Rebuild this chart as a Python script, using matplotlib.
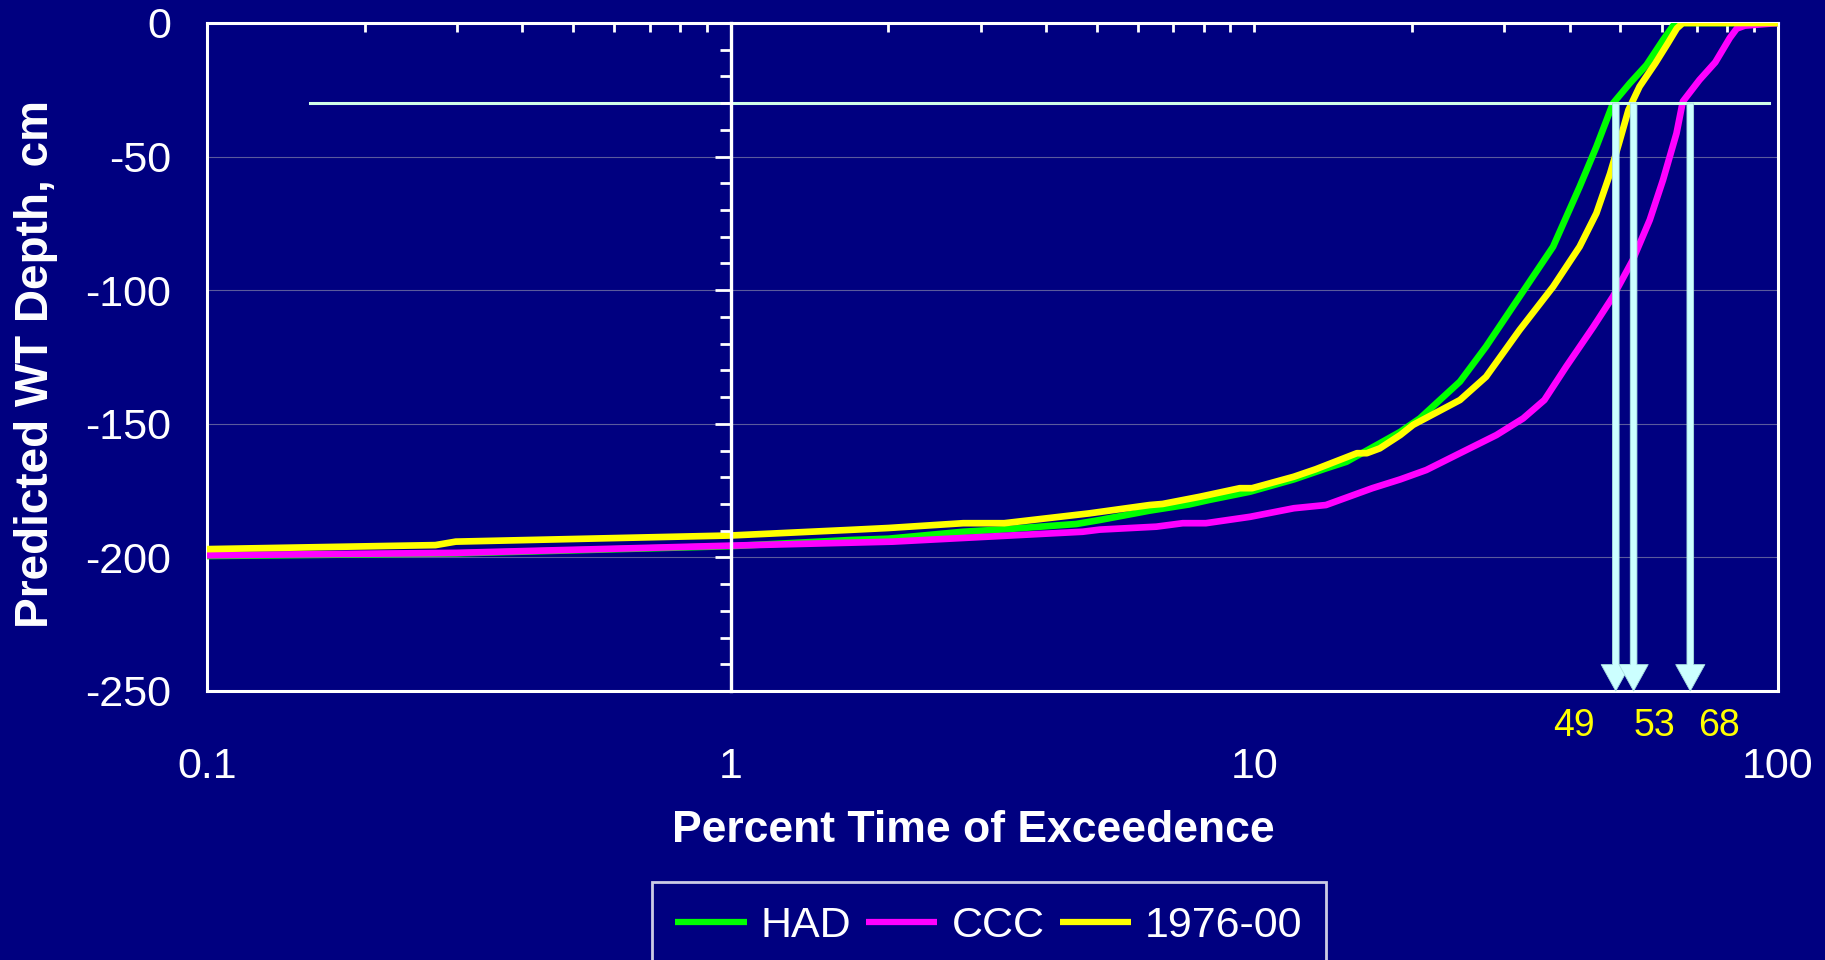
"""
Water table exceedance curves (HAD / CCC / 1976-00) on a log time axis.
Writes out.png.
"""

import matplotlib
matplotlib.use("Agg")
import matplotlib.pyplot as plt
import matplotlib.ticker as ticker

plt.rcParams["font.family"] = ["Liberation Sans", "DejaVu Sans"]
plt.rcParams["axes.unicode_minus"] = False

NAVY = "#000080"

# ── Data ──
had_x = [0.1, 0.3, 1.0, 1.69, 2.0, 2.78, 3.33, 4.57, 5.07, 6.31, 7.5, 8.2,
         9.82, 11.9, 13.7, 15.0, 17.36, 19.0, 20.7, 24.7, 27.7, 32.1, 37.2,
         41.8, 45.0, 48.4, 52.1, 56.1, 60.3, 63.0, 64.4, 100]
had_y = [-199.5, -198.5, -195.8, -193.5, -193.0, -190.4, -189.5, -187.5,
         -186.0, -182.5, -180.2, -178.5, -175.4, -170.8, -166.7, -164.2,
         -157.3, -153.0, -148.0, -134.2, -121.1, -102.4, -83.7, -61.3, -46.3,
         -30.1, -22.6, -15.7, -6.4, -1.1, 0, 0]

ccc_x = [0.1, 0.3, 1.0, 1.69, 2.04, 4.70, 5.07, 6.50, 7.30, 8.08, 9.82, 11.9,
         13.7, 16.8, 19.0, 21.3, 24.7, 29.0, 32.6, 35.8, 39.4, 44.4, 48.4,
         52.8, 56.9, 60.3, 64.0, 65.8, 70.8, 75.9, 80.9, 83.4, 86.4, 100]
ccc_y = [-199.2, -198.3, -195.6, -194.5, -194.1, -190.4, -189.6, -188.5,
         -187.2, -187.2, -184.8, -181.6, -180.4, -174.1, -170.8, -167.3,
         -161.0, -154.2, -148.0, -141.1, -128.6, -113.7, -102.4, -88.7, -73.7,
         -58.8, -41.3, -29.4, -21.3, -14.7, -5.6, -2.1, -1.0, 0]

base_x = [0.1, 0.273, 0.2985, 1.0, 1.69, 2.0, 2.78, 3.33, 4.85, 6.31, 6.68,
          7.87, 9.38, 9.9, 11.9, 13.1, 15.7, 16.4, 17.36, 19.0, 20.1, 24.7,
          27.7, 32.1, 37.2, 41.8, 45.0, 47.8, 49.7, 51.8, 54.4, 58.3, 61.6,
          64.1, 65.8, 100]
base_y = [-196.9, -195.4, -194.1, -191.8, -189.7, -189.0, -187.2, -187.2,
          -183.5, -180.4, -180.0, -177.3, -174.1, -174.1, -169.8, -167.0,
          -161.0, -161.0, -159.2, -154.2, -150.4, -141.1, -132.4, -114.9,
          -98.7, -83.7, -71.2, -56.3, -45.0, -32.6, -23.8, -15.1, -7.6, -2.0,
          0, 0]

series = [("HAD", had_x, had_y, "#00ff00"),
          ("CCC", ccc_x, ccc_y, "#ff00ff"),
          ("1976-00", base_x, base_y, "#ffff00")]

threshold = -30                 # cm, reference depth
threshold_span = [0.157, 96]    # % time, extent of the reference line
crossings = [49, 53, 68]        # % time where each curve hits the threshold
crossing_dx = [-42, 21, 29]     # label offsets (pixels)

x_ticks = [0.1, 1, 10, 100]
y_ticks = [0, -50, -100, -150, -200, -250]

fig = plt.figure(figsize=(18.25, 9.6), dpi=100, facecolor=NAVY)
ax = fig.add_axes([207 / 1825, 1 - 691 / 960, 1571 / 1825, 668 / 960])
ax.set_facecolor(NAVY)

# ── Curves ──
for name, xs, ys, col in series:
    ax.plot(xs, ys, color=col, lw=4.8, label=name, zorder=3,
            solid_joinstyle="round", solid_capstyle="butt")

ax.set_xscale("log")
ax.set_xlim(0.1, 100)
ax.set_ylim(-250, 0)

# ── Threshold line + arrows ──
ax.plot(threshold_span, [threshold, threshold], color="#d0ffe8", lw=2.2,
        zorder=4)
for xv, dx in zip(crossings, crossing_dx):
    ax.annotate("", xy=(xv, -250), xytext=(xv, threshold),
                arrowprops=dict(facecolor="#ccffff", edgecolor="#a8dede",
                                lw=0.6, width=4.8, headwidth=21,
                                headlength=19, shrink=0),
                zorder=5)
    ax.annotate(str(xv), xy=(xv, -250), xytext=(dx, -35),
                textcoords="offset pixels", ha="center", va="center",
                color="#ffff00", fontsize=27, annotation_clip=False)

# ── Frame / grid ──
for sp in ax.spines.values():
    sp.set_color("white")
    sp.set_linewidth(2.2)
ax.set_yticks(y_ticks)
ax.yaxis.grid(True, color="#5a5a9c", lw=0.8)
ax.set_axisbelow(True)
ax.tick_params(axis="y", length=0, pad=26, labelsize=31, colors="white")

ax.set_xticks(x_ticks)
ax.xaxis.set_major_formatter(ticker.FuncFormatter(lambda v, _: f"{v:g}"))
ax.xaxis.set_minor_formatter(ticker.NullFormatter())
ax.tick_params(axis="x", which="both", top=True, bottom=False,
               labelbottom=True, labeltop=False, direction="in",
               length=6.5, width=2, color="white", labelcolor="white",
               labelsize=31, pad=40)

# y axis crosses at x = 1 (ticks only, labels stay at the frame)
ax2 = ax.twinx()
ax2.set_ylim(ax.get_ylim())
for k in ("top", "bottom", "left"):
    ax2.spines[k].set_visible(False)
ax2.spines["right"].set_position(("data", 1))
ax2.spines["right"].set_color("white")
ax2.spines["right"].set_linewidth(2.4)
ax2.set_yticks(y_ticks)
ax2.yaxis.set_minor_locator(ticker.MultipleLocator(10))
ax2.tick_params(axis="y", which="both", direction="in", labelright=False,
                color="white", width=2)
ax2.tick_params(axis="y", which="major", length=11.5)
ax2.tick_params(axis="y", which="minor", length=8)

# ── Labels ──
ax.set_xlabel("Percent Time of Exceedence", fontsize=32, fontweight="bold",
              color="white", va="center")
ax.xaxis.set_label_coords(0.488, -0.209)
ax.set_ylabel("Predicted WT Depth, cm", fontsize=33, fontweight="bold",
              color="white", va="center")
ax.yaxis.set_label_coords(-0.109, 0.49)

leg = fig.legend(*ax.get_legend_handles_labels(), loc="upper center",
                 bbox_to_anchor=(989 / 1825, 1 - 882 / 960), ncol=3,
                 fontsize=31, frameon=True, facecolor=NAVY,
                 edgecolor="white", labelcolor="white", handlelength=1.65,
                 handletextpad=0.33, columnspacing=0.35, borderpad=0.55,
                 borderaxespad=0, fancybox=False)
leg.get_frame().set_linewidth(2)
for ln in leg.get_lines():
    ln.set_linewidth(4.5)

fig.savefig("out.png", dpi=100, facecolor=NAVY)
